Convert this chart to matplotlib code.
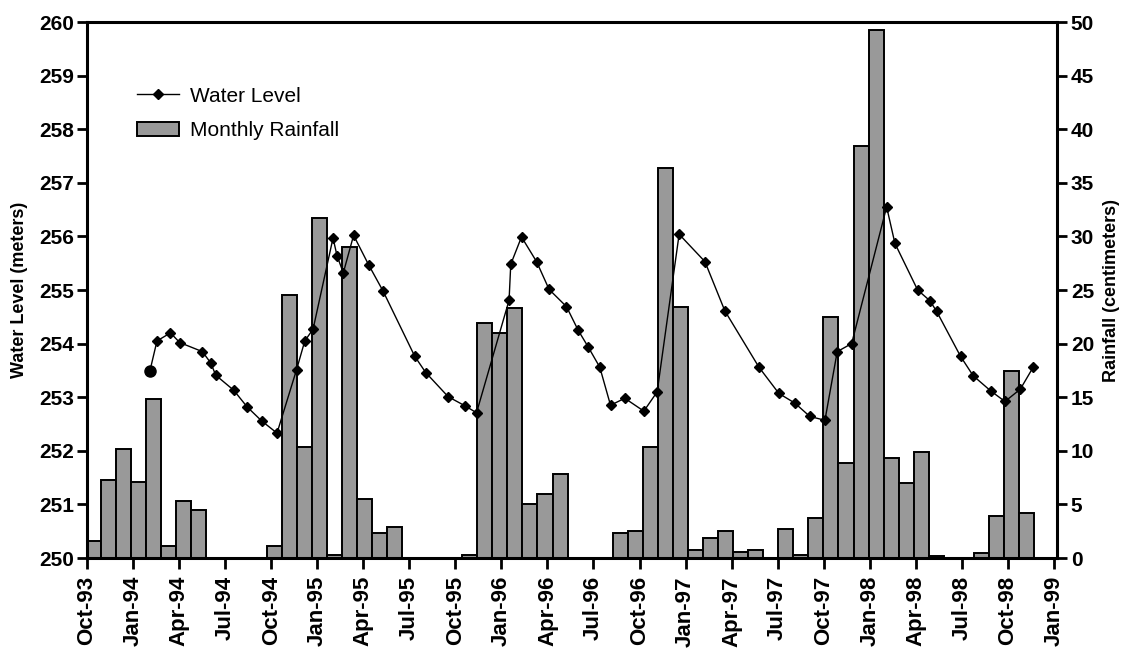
import matplotlib
matplotlib.use("Agg")
import matplotlib.pyplot as plt
from matplotlib import font_manager
from matplotlib.lines import Line2D
from matplotlib.patches import Patch

# ---- data -------------------------------------------------------------
# Monthly rainfall (cm), one value per month from Oct-93 to Dec-98
rain_cm = [
    1.6, 7.3, 10.2, 7.1, 14.8, 1.1, 5.3, 4.5, 0.0, 0.0, 0.0, 0.0,       # Oct-93 .. Sep-94
    1.1, 24.5, 10.4, 31.7, 0.3, 29.0, 5.5, 2.3, 2.9, 0.0, 0.0, 0.0,     # Oct-94 .. Sep-95
    0.0, 0.3, 21.9, 21.0, 23.3, 5.0, 6.0, 7.8, 0.0, 0.0, 0.0, 2.3,      # Oct-95 .. Sep-96
    2.5, 10.4, 36.4, 23.4, 0.7, 1.9, 2.5, 0.6, 0.7, 0.0, 2.7, 0.3,      # Oct-96 .. Sep-97
    3.7, 22.5, 8.9, 38.4, 49.3, 9.3, 7.0, 9.9, 0.2, 0.0, 0.0, 0.5,      # Oct-97 .. Sep-98
    3.9, 17.4, 4.2,                                                     # Oct-98 .. Dec-98
]

# Water level readings: time in months since 1 Oct 1993, level in metres
level_month = [
    4.09, 4.56, 5.44, 6.04, 7.52, 8.06, 8.39, 9.56, 10.43, 11.37, 12.38,
    13.65, 14.19, 14.73, 16.03, 16.29, 16.70, 17.37, 18.35, 19.29,
    21.36, 22.07, 23.53, 24.62, 25.38, 27.50, 27.61, 28.31, 29.29, 30.11,
    31.24, 32.00, 32.65, 33.41, 34.11, 35.04, 36.28, 37.15, 38.58, 40.26,
    41.56, 43.78, 45.08, 46.12, 47.10, 48.08, 48.88, 49.82, 52.10, 52.64,
    54.12, 54.92, 55.36, 56.92, 57.74, 58.87, 59.81, 60.81, 61.65,
]
level_m = [
    253.48, 254.05, 254.20, 254.02, 253.85, 253.64, 253.41, 253.13, 252.82, 252.56, 252.33,
    253.51, 254.05, 254.27, 255.97, 255.64, 255.32, 256.02, 255.47, 254.98,
    253.76, 253.46, 253.01, 252.84, 252.71, 254.81, 255.48, 255.99, 255.53, 255.01,
    254.69, 254.25, 253.94, 253.56, 252.85, 252.98, 252.74, 253.10, 256.04, 255.53,
    254.61, 253.56, 253.07, 252.89, 252.64, 252.57, 253.85, 254.00, 256.55, 255.87,
    255.00, 254.80, 254.60, 253.76, 253.40, 253.12, 252.92, 253.15, 253.56,
]

tick_labels = [
    "Oct-93", "Jan-94", "Apr-94", "Jul-94", "Oct-94", "Jan-95", "Apr-95", "Jul-95",
    "Oct-95", "Jan-96", "Apr-96", "Jul-96", "Oct-96", "Jan-97", "Apr-97", "Jul-97",
    "Oct-97", "Jan-98", "Apr-98", "Jul-98", "Oct-98", "Jan-99",
]

# ---- fonts ------------------------------------------------------------
installed = {f.name for f in font_manager.fontManager.ttflist}
narrow = "Liberation Sans Narrow" if "Liberation Sans Narrow" in installed else "Liberation Sans"
plt.rcParams["font.family"] = [narrow, "DejaVu Sans"]

# ---- figure -----------------------------------------------------------
fig = plt.figure(figsize=(11.27, 6.62), dpi=100)
rect = [87 / 1127, 1 - 558 / 662, (1057 - 87) / 1127, (558 - 22) / 662]

bar_color = "#999999"

# rainfall axes (underneath), monthly categories
ax_rain = fig.add_axes(rect)
ax_rain.bar(range(len(rain_cm)), rain_cm, width=1.0, color=bar_color,
            edgecolor="black", linewidth=1.4, zorder=2)
ax_rain.set_xlim(-0.43, 64.02)
ax_rain.set_ylim(0, 50)
ax_rain.set_xticks([])
ax_rain.yaxis.tick_right()
ax_rain.yaxis.set_label_position("right")
ax_rain.set_yticks(range(0, 51, 5))
ax_rain.tick_params(axis="y", direction="out", length=7, width=2, labelsize=15, pad=3)
for lbl in ax_rain.get_yticklabels():
    lbl.set_fontweight("bold")
ax_rain.set_ylabel("Rainfall (centimeters)", fontsize=13, fontweight="bold",
                   rotation=90, labelpad=6)
for s in ax_rain.spines.values():
    s.set_visible(False)

# water level axes (on top)
ax = fig.add_axes(rect)
ax.patch.set_visible(False)
ax.plot(level_month, level_m, color="black", linewidth=1.0, marker="D",
        markersize=5.5, zorder=3)
ax.plot(level_month[:1], level_m[:1], "o", color="black", markersize=8, zorder=3)
ax.set_xlim(0, 63.2)
ax.set_ylim(250, 260)
ax.set_yticks(range(250, 261))
ax.set_xticks(range(0, 64, 3))
ax.set_xticklabels(tick_labels, rotation=90, fontsize=16, fontweight="bold")
ax.tick_params(axis="y", direction="out", length=7, width=2, labelsize=15, pad=2)
ax.tick_params(axis="x", direction="out", length=8, width=2, pad=5)
for lbl in ax.get_yticklabels():
    lbl.set_fontweight("bold")
ax.set_ylabel("Water Level (meters)", fontsize=13, fontweight="bold", labelpad=8)
for s in ax.spines.values():
    s.set_linewidth(2.2)
    s.set_color("black")

handles = [
    Line2D([], [], color="black", linewidth=1.0, marker="D", markersize=5.5),
    Patch(facecolor=bar_color, edgecolor="black", linewidth=1.4),
]
ax.legend(handles, ["Water Level", "Monthly Rainfall"], loc="upper left",
          bbox_to_anchor=(0.043, 0.895), frameon=False, fontsize=15,
          handlelength=2.0, handletextpad=0.55, labelspacing=0.75, borderaxespad=0)

fig.savefig("out.png", dpi=100)
